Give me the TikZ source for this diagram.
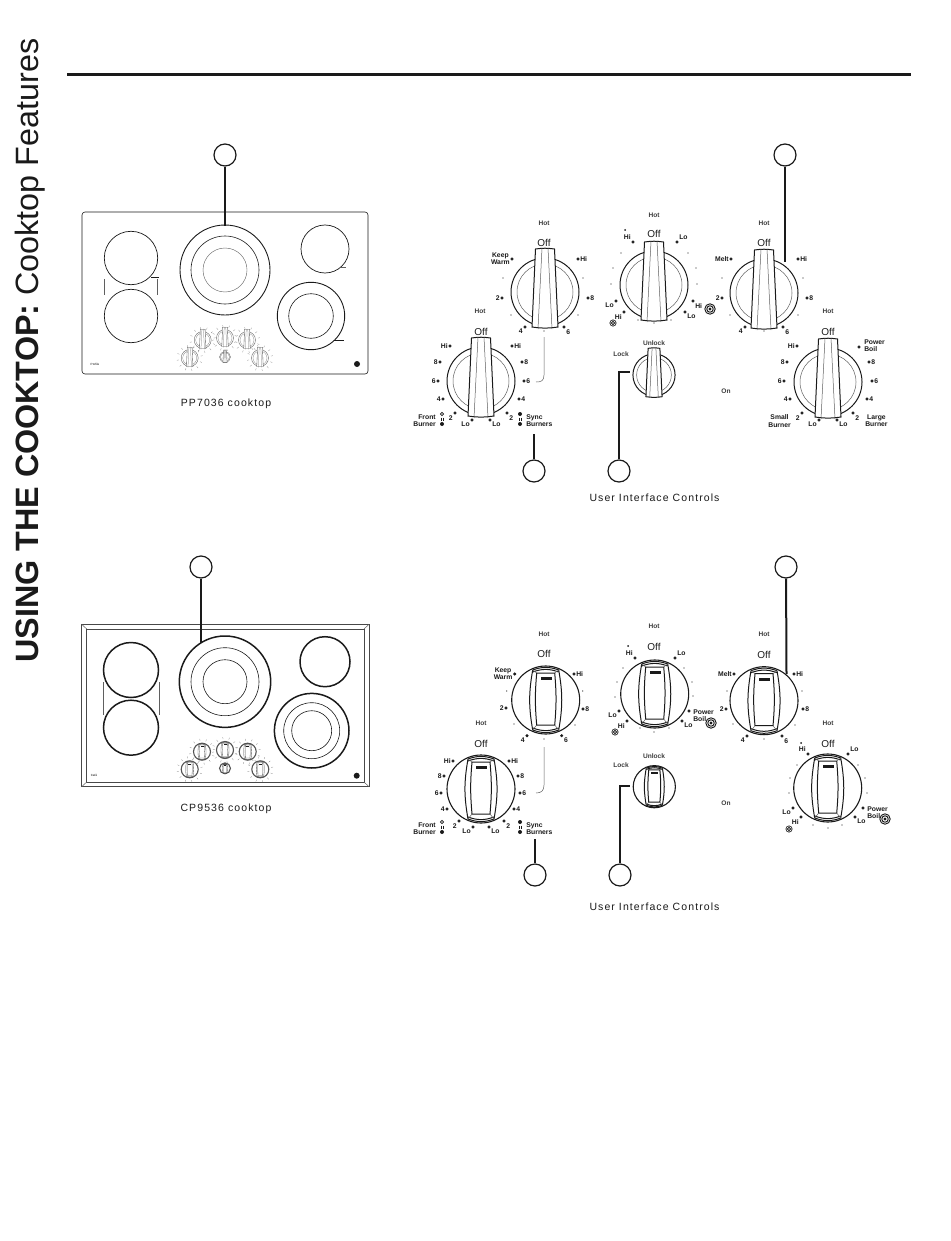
\documentclass[tikz,border=0pt]{standalone}
\usepackage{fontspec}
\setmainfont{Liberation Sans}
\newfontfamily\capfont[LetterSpace=10.5]{Liberation Sans}
\definecolor{inkdark}{HTML}{1A1A1A}
\tikzset{
    rim/.style={draw=inkdark,line width=1pt},
    thin rim/.style={draw=inkdark!70,line width=0.5pt},
    mini/.style={rim/.style={draw=inkdark!75,line width=0.35pt},thin rim/.style={draw=inkdark!60,line width=0.25pt}},
    callout/.style={circle,draw=inkdark,line width=1.2pt,minimum size=22pt,inner sep=0pt},
    leader/.style={draw=inkdark,line width=2pt},
    lab/.style={font=\fontsize{6.8}{7.2}\selectfont\bfseries,text=inkdark,inner sep=1pt,outer sep=1.3pt,align=center},
    smalllab/.style={font=\fontsize{6.6}{7}\selectfont\bfseries,text=inkdark!85,inner sep=0pt},
    bigtext/.style={font=\fontsize{10}{10}\selectfont,text=inkdark,inner sep=0pt},
    captext/.style={font=\capfont\fontsize{10.5}{11}\selectfont,text=inkdark,inner sep=0pt},
    boiltop/.style={anchor=west,xshift=3pt,yshift=1.5pt,align=left},
    boillow/.style={anchor=north west,xshift=2pt,yshift=3.5pt,align=left},
}
% knob with the narrow tapered grip
\newcommand{\slimknob}[3]{
    \begin{scope}[shift={(#1,#2)},scale=#3]
        \draw[rim] (0,0) circle (34);
        \draw[thin rim] (0,0) circle (28);
        \filldraw[fill=white,rim] (-9.5,-43) to[bend left=8] (9.5,-43) -- (13,35) to[bend left=8] (-13,35) -- cycle;
        \draw[thin rim] (-3,-44) -- (-7,37);
        \draw[thin rim] (3,-44) -- (7,37);
    \end{scope}
}
% knob with the wide grip and the bar on top
\newcommand{\fatknob}[3]{
    \begin{scope}[shift={(#1,#2)},scale=#3]
        \draw[rim,line width=1.1pt] (0,0) circle (34);
        \draw[rim] (-13,-30) to[bend left=20] (13,-30);
        \draw[rim] (-13,30) to[bend right=20] (13,30);
        \draw[rim] (-13,-28) to[bend left=20] (13,-28);
        \draw[rim] (-13,28) to[bend right=20] (13,28);
        \draw[rim] (-13,-30) to[bend right=10] (-13,30);
        \draw[rim] (13,-30) to[bend left=10] (13,30);
        \draw[rim] (-9,-27) -- (9,-27) to[bend left=5] (9,25) -- (-9,25) to[bend left=5] cycle;
        \draw[thin rim] (-13,-30) -- (-9,-27);
        \draw[thin rim] (13,-30) -- (9,-27);
        \draw[thin rim] (-13,30) -- (-9,25);
        \draw[thin rim] (13,30) -- (9,25);
        \fill[inkdark] (-5,-23) rectangle (6,-20);
    \end{scope}
}
% ticks round a small knob on the cooktop drawings
\newcommand{\tinyticks}[3]{
    \foreach \a in {20,50,...,350}
        \draw[mini,thin rim] (#1,#2) ++(\a:#3) -- ++(\a:2);
}
% concentric rings of a burner
\newcommand{\spiral}[3]{
    \draw[inkdark,line width=#3*0.18pt] (#1,#2) circle (#3) (#1,#2) circle (#3*0.62);
    \fill[inkdark] (#1,#2) circle (#3*0.3);
}
\begin{document}
\begin{tikzpicture}[x=1pt,y=-1pt]
    \useasboundingbox (0,0) rectangle (950,1241);

    % title and rule
    \node[rotate=90,inner sep=0pt,text=inkdark,font=\fontsize{32.3}{32}\selectfont,anchor=west] (title) at (30,663) {\textbf{USING THE COOKTOP:} Cooktop Features};
    \draw[inkdark,line width=3pt] (67,75) -- (911,75);

    % ---- cooktop 1 ----
    \draw[inkdark,line width=0.6pt,rounded corners=3pt] (82,212) rectangle (368,374);
    \draw[rim,line width=0.7pt] (131,258) circle (26.7);
    \draw[rim,line width=0.7pt] (131,316) circle (26.7);
    \draw[rim,line width=0.9pt] (225,270) circle (45);
    \draw[rim,line width=0.6pt] (225,270) circle (34);
    \draw[thin rim,line width=0.4pt] (225,270) circle (22);
    \draw[rim,line width=0.7pt] (325,249) circle (24);
    \draw[rim,line width=0.9pt] (311,316) circle (33.7);
    \draw[rim,line width=0.6pt] (311,316) circle (22.3);
    \draw[thin rim] (104.3,279) -- (104.3,295);
    \draw[thin rim] (157.3,279) -- (157.3,295);
    \draw[rim,line width=0.7pt] (151,277) -- (159,277);
    \draw[thin rim] (341,267) -- (346,267);
    \draw[rim,line width=0.7pt] (334,340) -- (344,340);
    \begin{scope}[mini]
        \foreach \kx/\ky in {202.7/340,225/338,247/340,189.7/358,260/358}{
            \slimknob{\kx}{\ky}{0.25}
            \tinyticks{\kx}{\ky}{11}
        }
        \slimknob{225}{357}{0.16}
    \end{scope}
    \node[font=\fontsize{3}{3}\selectfont,inner sep=0pt] (brandone) at (95,364) {Profile};
    \fill[inkdark] (357,364) circle (3);
    \node[captext] (capone) at (226,404) {PP7036 cooktop};

    % ---- cooktop 2 ----
    \draw[inkdark!80,line width=0.6pt] (81.7,624.3) rectangle (369,786.7);
    \draw[inkdark!80,line width=0.6pt] (86.7,629) rectangle (364,782);
    \draw[thin rim] (81.7,624.3) -- (86.7,629);
    \draw[thin rim] (369,624.3) -- (364,629);
    \draw[thin rim] (81.7,786.7) -- (86.7,782);
    \draw[thin rim] (369,786.7) -- (364,782);
    \draw[rim,line width=1.5pt] (131,670) circle (27.5);
    \draw[rim,line width=1.5pt] (131,727.7) circle (27.5);
    \draw[rim,line width=1.5pt] (225,681.7) circle (45.7);
    \draw[rim,line width=0.6pt] (225,681.7) circle (34);
    \draw[rim,line width=0.6pt] (225,681.7) circle (22);
    \draw[rim,line width=1.5pt] (325,661.7) circle (25);
    \draw[rim,line width=1.5pt] (311.7,730.7) circle (37.3);
    \draw[rim,line width=0.6pt] (311.7,730.7) circle (28);
    \draw[rim,line width=0.6pt] (311.7,730.7) circle (20);
    \draw[thin rim] (103.3,682) -- (103.3,715);
    \draw[thin rim] (159,682) -- (159,715);
    \begin{scope}[mini]
        \foreach \kx/\ky in {202/751.7,225/750,247.7/751.7,189.7/769.3,260.3/769.3}{
            \fatknob{\kx}{\ky}{0.25}
            \tinyticks{\kx}{\ky}{11}
        }
        \fatknob{225}{768.3}{0.16}
    \end{scope}
    \node[font=\fontsize{3}{3}\selectfont,inner sep=0pt] (brandtwo) at (94,775.7) {Café};
    \fill[inkdark] (356.7,775.7) circle (3);
    \node[captext] (captwo) at (226,809) {CP9536 cooktop};

    % ---- knobs, first row ----
    \slimknob{545}{292}{1}
    \slimknob{481}{381}{1}
    \slimknob{654}{285}{1}
    \slimknob{764}{293}{1}
    \slimknob{828}{382}{1}
    \slimknob{654}{375}{0.62}

    % ---- knobs, second row ----
    \fatknob{545.7}{700}{1}
    \fatknob{481}{789}{1}
    \fatknob{654.7}{694}{1}
    \fatknob{764}{700.7}{1}
    \fatknob{827.7}{788}{1}
    \fatknob{654.3}{786.7}{0.62}

    % small dots without text
    \foreach \dx/\dy in {583/278,578/315,544/331,511/315,503/278,
                         621/253,613/268,611/284,638/320,654/323,671/320,697/284,696/268,688/253,
                         803/278,798/315,764/331,730/315,722/278,
                         582.7/691,575/725,544/739,514/724,506.7/691,
                         623/668,617/682,615/697,640/728,654/732,669/728,693/696,692/682,684/668,
                         802/691,795/725,764/739,733/724,727/691,
                         797/765,790/778,789/793,813/825,828/828,842/825,867/793,865/778,858/765}
        \fill[inkdark] (\dx,\dy) circle (0.7);

    % dots with text, first row
    \foreach \dx/\dy/\pos/\txt in {512/259/left/{Keep\\Warm},578/259/right/Hi,588/298/right/8,564/327/{below right}/6,525/327/{below left}/4,502/298/left/2,
                                   450/346/left/Hi,512/346/right/Hi,440/362/left/8,522/362/right/8,438/381/left/6,524/381/right/6,443/399/left/4,519/399/right/4,455/413/{below left}/2,507/413/{below right}/2,472/420/{below left}/Lo,490/420/{below right}/Lo,
                                   633/242/{above left}/Hi,677/242/{above right}/Lo,616/301/{below left}/Lo,624/312/{below left}/Hi,685/312/{below right}/Lo,693/301/{below right}/Hi,
                                   731/259/left/Melt,798/259/right/Hi,807/298/right/8,783/327/{below right}/6,745/327/{below left}/4,722/298/left/2,
                                   797/346/left/Hi,859/347/boiltop/{Power\\Boil},787/362/left/8,869/362/right/8,784/381/left/6,872/381/right/6,790/399/left/4,867/399/right/4,802/413/{below left}/2,853/413/{below right}/2,819/420/{below left}/Lo,837/420/{below right}/Lo}
        \filldraw[inkdark] (\dx,\dy) circle (1.3) node[lab,\pos] {\txt};
    \fill[inkdark] (625,230) circle (1);

    % dots with text, second row
    \foreach \dx/\dy/\pos/\txt in {514.7/674/left/{Keep\\Warm},574/674/right/Hi,583/709/right/8,561.7/735.7/{below right}/6,527/735.7/{below left}/4,506/708/left/2,
                                   453/761/left/Hi,509/761/right/Hi,444/776/left/8,518/776/right/8,441/793/left/6,520/793/right/6,447/809/left/4,514/809/right/4,459/821/{below left}/2,504/821/{below right}/2,473/827/{below left}/Lo,489/827/{below right}/Lo,
                                   635/658/{above left}/Hi,675/658/{above right}/Lo,619/711/{below left}/Lo,627/721/{below left}/Hi,682/721/{below right}/Lo,689/711/boillow/{Power\\Boil},
                                   734/674/left/Melt,794/674/right/Hi,803/709/right/8,782/736/{below right}/6,747/736/{below left}/4,726/709/left/2,
                                   808/754/{above left}/Hi,848/754/{above right}/Lo,793/808/{below left}/Lo,801/817/{below left}/Hi,855/817/{below right}/Lo,863/808/boillow/{Power\\Boil}}
        \filldraw[inkdark] (\dx,\dy) circle (1.3) node[lab,\pos] {\txt};
    \fill[inkdark] (628,646) circle (1);
    \fill[inkdark] (801,743) circle (1);

    % free text
    \foreach \tx/\ty/\txt in {544/223/Hot,480/311/Hot,654/215/Hot,764/223/Hot,828/311/Hot,
                              544/634/Hot,481/723/Hot,654/626/Hot,764/634/Hot,828/723/Hot,
                              654/343/Unlock,621/354/Lock,726/391/On,654/756/Unlock,621/765/Lock,726/803/On}
        \node[smalllab] at (\tx,\ty) {\txt};
    \foreach \tx/\ty in {544/243,481/332,654/234,764/243,828/332,544/654,481/744,654/647,764/655,828/744}
        \node[bigtext] at (\tx,\ty) {Off};
    \node[lab,anchor=east,align=right] at (438,421) {Front\\Burner};
    \node[lab,anchor=west,align=left] at (524,421) {Sync\\Burners};
    \node[lab,anchor=east,align=right] at (438,829) {Front\\Burner};
    \node[lab,anchor=west,align=left] at (524,829) {Sync\\Burners};
    \node[lab,anchor=east,align=center] at (793,421) {Small\\Burner};
    \node[lab,anchor=west,align=center] at (863,421) {Large\\Burner};
    \foreach \dx/\dy in {442/424,520/414,520/424,442/832,520/822,520/832}
        \fill[inkdark] (\dx,\dy) circle (2);
    \foreach \dx/\dy in {442/419,520/419,442/827,520/827}
        \draw[inkdark,line width=0.5pt] (\dx-1.2,\dy-1.5) -- (\dx-1.2,\dy+1.5) (\dx+1.2,\dy-1.5) -- (\dx+1.2,\dy+1.5);
    \draw[inkdark,line width=0.7pt] (442,414) circle (1.7);
    \draw[inkdark,line width=0.7pt] (442,822) circle (1.7);
    \spiral{613}{323}{3.2}
    \spiral{710}{309}{5.2}
    \spiral{615}{732}{3.2}
    \spiral{711}{723}{5.2}
    \spiral{789}{829}{3.2}
    \spiral{885}{819}{5.2}

    % sync brackets
    \draw[inkdark!70,line width=0.5pt] (544,337) -- (544,375) .. controls (544,381) and (541,382) .. (536,382);
    \draw[inkdark!70,line width=0.5pt] (544,747) -- (544,785) .. controls (544,791) and (541,793) .. (536,793);

    \node[captext] (uione) at (654.5,498) {User Interface Controls};
    \node[captext] (uitwo) at (654.5,907) {User Interface Controls};

    % numbered callouts
    \node[callout] (callone) at (225,155) {};
    \node[callout] (calltwo) at (785,155) {};
    \node[callout] (callthree) at (534,471) {};
    \node[callout] (callfour) at (619,471) {};
    \node[callout] (callfive) at (201,567) {};
    \node[callout] (callsix) at (786,567) {};
    \node[callout] (callseven) at (535,875) {};
    \node[callout] (calleight) at (620,875) {};

    \coordinate (endone) at (225,226);
    \coordinate (endtwo) at (785,262);
    \coordinate (endthree) at (534,434);
    \coordinate (endfour) at (630,372);
    \coordinate (endfive) at (201,643);
    \coordinate (endsix) at (786.5,674);
    \coordinate (endseven) at (535,839);
    \coordinate (endeight) at (630,786);

    \draw[leader] (callone) -- (endone);
    \draw[leader] (calltwo) -- (endtwo);
    \draw[leader] (callthree) -- (endthree);
    \draw[leader] (callfour) |- (endfour);
    \draw[leader] (callfive) -- (endfive);
    \draw[leader] (callsix) -- (endsix);
    \draw[leader] (callseven) -- (endseven);
    \draw[leader] (calleight) |- (endeight);
\end{tikzpicture}
\end{document}
